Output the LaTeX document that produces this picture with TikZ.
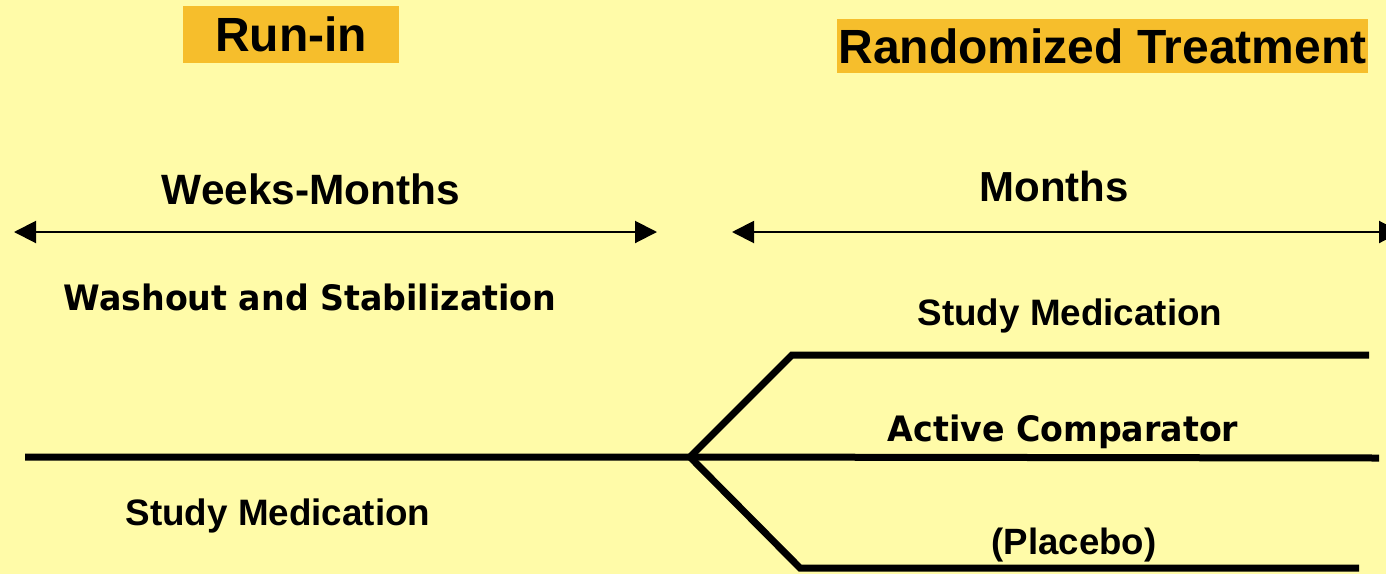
\documentclass[tikz,border=0pt]{standalone}
\usepackage{fontspec}
\setmainfont{Liberation Sans}
\newfontfamily\widesans[FakeStretch=0.95]{DejaVu Sans}
\usetikzlibrary{arrows.meta}
\definecolor{paper}{HTML}{FFFBA8}
\definecolor{banner}{HTML}{F6BE2C}
\tikzset{span/.style = {{Triangle[length=11pt, width=11pt]}-{Triangle[length=11pt, width=11pt]},
                        line width=1pt},
         arm/.style = {line width=3.5pt, line join=miter},
         banner/.style = {fill=banner, inner sep=0pt,
                          font=\bfseries\fontsize{24}{24}\selectfont},
         txt/.style = {inner sep=0pt, font=\bfseries\fontsize{#1}{#1}\selectfont},
         widetxt/.style = {inner sep=0pt, font=\widesans\bfseries\fontsize{#1}{#1}\selectfont}}
\begin{document}
\begin{tikzpicture}[x=0.5pt, y=-0.5pt]
      \fill [paper] (0, 0) rectangle (1386, 574);
      \clip (0, 0) rectangle (1386, 574);

      \node [banner, minimum width=108pt, minimum height=28.5pt] (runin) at (291, 34.5) {Run-in};
      \node [banner, minimum width=265.5pt, minimum height=27pt] (rand) at (1102.5, 46) {Randomized Treatment};

      \node [txt=21.2] (weeks) at (311, 189) {Weeks-Months};
      \node [txt=21] (months) at (1054, 186) {Months};
      \node [widetxt=17.5] (washout) at (310, 297) {Washout and Stabilization};
      \node [txt=18.4] (studyR) at (1070, 316) {Study Medication};
      \node [widetxt=17.5] (active) at (1063, 432) {Active Comparator};
      \node [txt=18.4] (studyL) at (278, 516) {Study Medication};
      \node [txt=18.3] (placebo) at (1074, 545) {(Placebo)};

      % time spans
      \coordinate (spanA) at (14, 232);
      \coordinate (spanB) at (657, 232);
      \coordinate (spanC) at (732, 232);
      \coordinate (spanD) at (1401, 232);
      \draw [span] (spanA) -- (spanB);
      \draw [span] (spanC) -- (spanD);

      % treatment arms
      \coordinate (start) at (25, 457);
      \coordinate (split) at (690, 457);
      \coordinate (upA) at (792, 355);
      \coordinate (upB) at (1369, 355);
      \coordinate (midB) at (1379, 458);
      \coordinate (lowA) at (800, 568);
      \coordinate (lowB) at (1359, 568);
      \draw [arm] (start) -- (split) -- (midB);
      \draw [arm] (upB) -- (upA) -- (split) -- (lowA) -- (lowB);
    \end{tikzpicture}
\end{document}
